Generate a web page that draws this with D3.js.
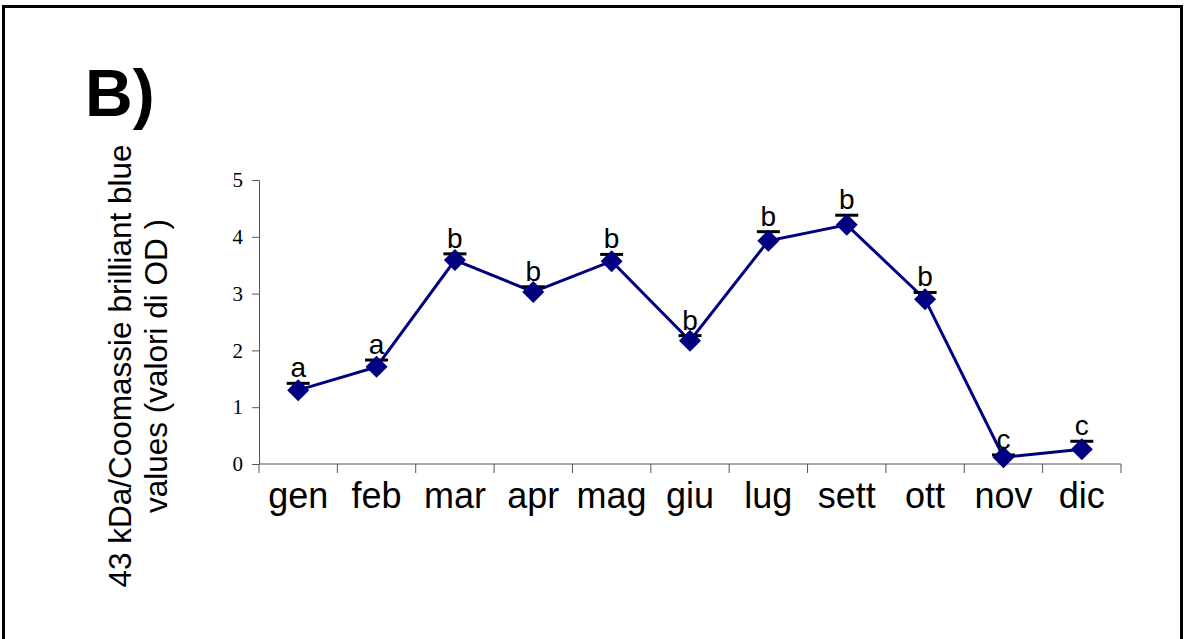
<!DOCTYPE html>
<html>
<head>
<meta charset="utf-8">
<script src="https://cdn.jsdelivr.net/npm/d3@7"></script>
<style>
  body { margin: 0; background: #fff; }
  svg { display: block; }
</style>
</head>
<body>
<svg id="chart" width="1185" height="639"></svg>
<script>
// dati
const months = ["gen", "feb", "mar", "apr", "mag", "giu", "lug", "sett", "ott", "nov", "dic"];
const values = [1.30, 1.71, 3.59, 3.03, 3.57, 2.17, 3.93, 4.21, 2.90, 0.12, 0.26];
const errors = [0.12, 0.12, 0.11, 0.09, 0.12, 0.09, 0.16, 0.17, 0.12, 0.04, 0.14];
const letters = ["a", "a", "b", "b", "b", "b", "b", "b", "b", "c", "c"];
const yTicks = [0, 1, 2, 3, 4, 5];

const svg = d3.select("#chart");

// cornice
svg.append("rect")
    .attr("x", 3.5)
    .attr("y", 6.5)
    .attr("width", 1178)
    .attr("height", 660)
    .attr("fill", "none")
    .attr("stroke", "#000")
    .attr("stroke-width", 3);

const plot = { left: 259, right: 1121, top: 180, bottom: 464 };

const x = d3.scaleBand()
    .domain(months)
    .range([plot.left, plot.right]);

const y = d3.scaleLinear()
    .domain([0, 5])
    .range([plot.bottom, plot.top]);

// asse y
const yAxis = svg.append("g")
    .attr("transform", `translate(${plot.left},0)`)
    .call(d3.axisLeft(y).tickValues(yTicks).tickSize(7).tickPadding(9).tickFormat(d3.format("d")));
yAxis.select(".domain").attr("stroke", "#555");
yAxis.selectAll(".tick line").attr("stroke", "#555");
yAxis.selectAll("text")
    .attr("font-family", "'Liberation Serif', 'Times New Roman', serif")
    .attr("font-size", 21)
    .attr("fill", "#000");

// asse x con tacche ai bordi delle categorie
const xg = svg.append("g");
xg.append("line")
    .attr("x1", plot.left).attr("x2", plot.right)
    .attr("y1", plot.bottom).attr("y2", plot.bottom)
    .attr("stroke", "#555");
const bounds = months.map(m => x(m)).concat([plot.right]);
xg.selectAll(".xtick")
    .data(bounds)
    .enter().append("line")
    .attr("x1", d => d).attr("x2", d => d)
    .attr("y1", plot.bottom).attr("y2", plot.bottom + 9)
    .attr("stroke", "#555");
xg.selectAll(".xlab")
    .data(months)
    .enter().append("text")
    .attr("x", d => x(d) + x.bandwidth() / 2)
    .attr("y", 508)
    .attr("text-anchor", "middle")
    .attr("font-family", "'Liberation Sans', Arial, sans-serif")
    .attr("font-size", 36)
    .text(d => d);

const cx = i => x(months[i]) + x.bandwidth() / 2;
const color = "#000080";

// linea
svg.append("path")
    .datum(values)
    .attr("fill", "none")
    .attr("stroke", color)
    .attr("stroke-width", 3)
    .attr("d", d3.line().x((d, i) => cx(i)).y(d => y(d)));

// barre di errore (solo superiori)
const eb = svg.append("g");
values.forEach((v, i) => {
    eb.append("line")
        .attr("x1", cx(i)).attr("x2", cx(i))
        .attr("y1", y(v)).attr("y2", y(v + errors[i]))
        .attr("stroke", "#000").attr("stroke-width", 2);
    eb.append("line")
        .attr("x1", cx(i) - 11.5).attr("x2", cx(i) + 11.5)
        .attr("y1", y(v + errors[i])).attr("y2", y(v + errors[i]))
        .attr("stroke", "#000").attr("stroke-width", 3);
});

// marcatori a rombo
svg.selectAll(".pt")
    .data(values)
    .enter().append("path")
    .attr("d", "M0,-11L11,0L0,11L-11,0Z")
    .attr("transform", (d, i) => `translate(${cx(i)},${y(d)})`)
    .attr("fill", color);

// lettere di significatività
svg.selectAll(".let")
    .data(values)
    .enter().append("text")
    .attr("x", (d, i) => cx(i))
    .attr("y", (d, i) => y(d + errors[i]) - 6)
    .attr("text-anchor", "middle")
    .attr("font-family", "'Liberation Sans', Arial, sans-serif")
    .attr("font-size", 28)
    .text((d, i) => letters[i]);

// titolo asse y
const yl = svg.append("text")
    .attr("transform", "translate(131,366) rotate(-90)")
    .attr("text-anchor", "middle")
    .attr("font-family", "'Liberation Sans', Arial, sans-serif")
    .attr("font-size", 31.5);
yl.append("tspan").attr("x", 0).attr("dy", 0).text("43 kDa/Coomassie brilliant blue");
yl.append("tspan").attr("x", 0).attr("dy", 36).text("values (valori di OD )");

// etichetta pannello
svg.append("text")
    .attr("x", 85)
    .attr("y", 116)
    .attr("font-family", "'Liberation Sans', Arial, sans-serif")
    .attr("font-weight", "bold")
    .attr("font-size", 66)
    .text("B)");
</script>
</body>
</html>
